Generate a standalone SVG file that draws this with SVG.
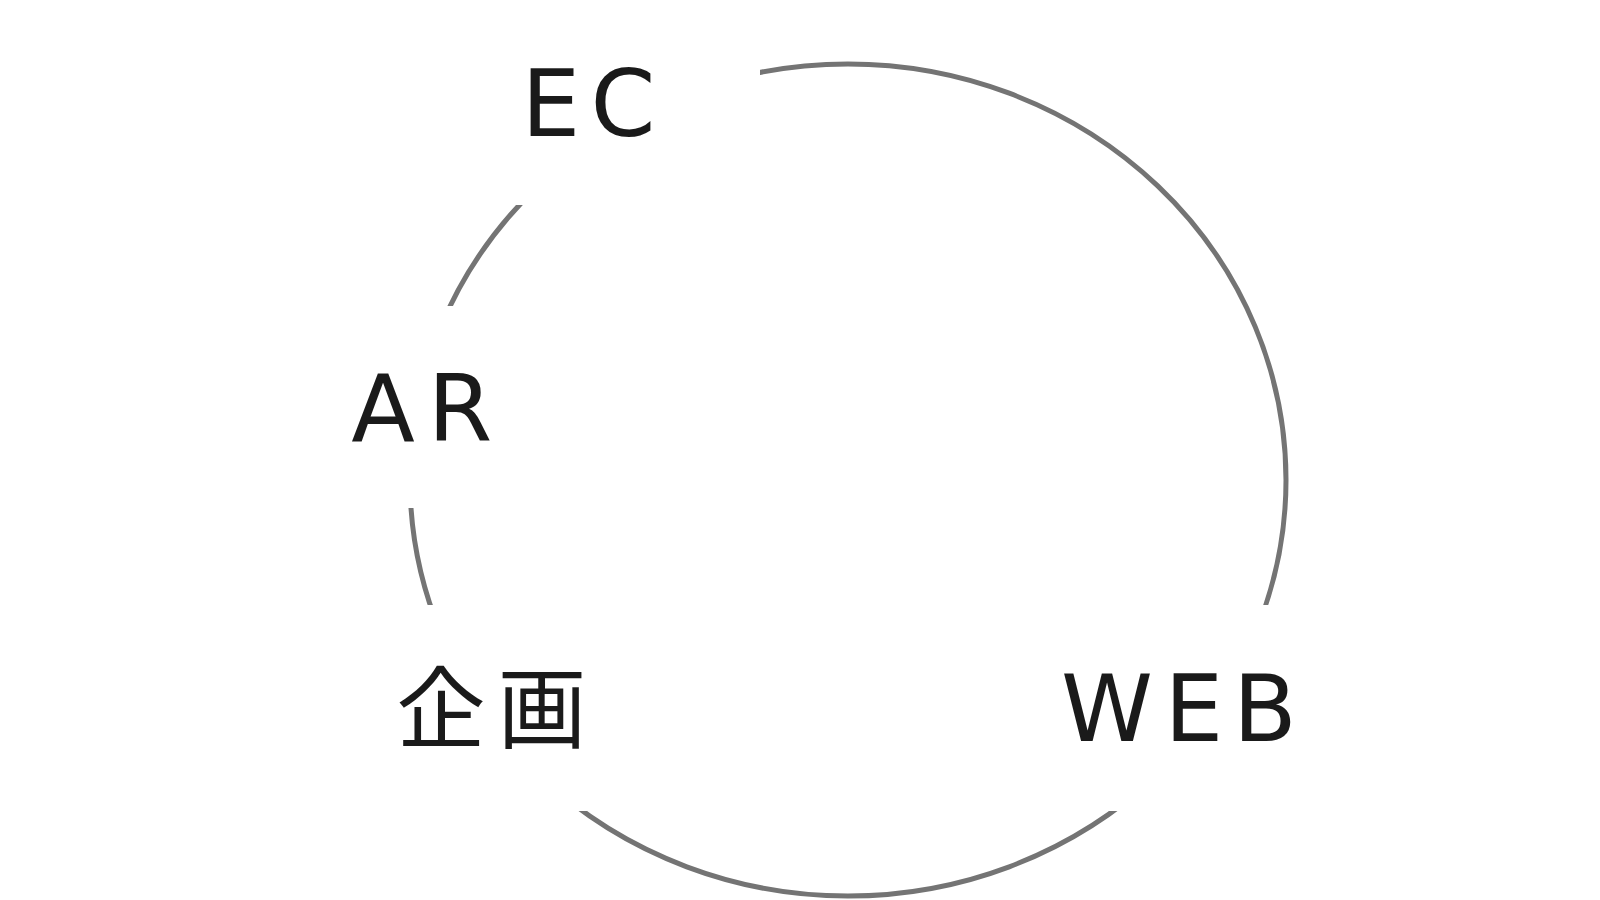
<svg xmlns="http://www.w3.org/2000/svg" width="1600" height="900" viewBox="0 0 1600 900">
<style>
.ring{fill:none;stroke:#747474;stroke-width:5}
.bg{fill:#fff}
.lbl{font-family:"DejaVu Sans","Noto Sans CJK JP",sans-serif;font-size:93px;fill:#1a1a1a;text-anchor:middle}
.kj{font-family:"Noto Sans CJK JP",sans-serif;font-size:89px;fill:#1a1a1a;text-anchor:middle}
</style>
<rect width="1600" height="900" fill="#fff"/>
<g id="connectors">
<ellipse class="ring" cx="848" cy="480" rx="438" ry="416"/>
</g>
<g id="node-ec">
<rect class="bg" x="420" y="-1" width="340" height="206"/>
<text class="lbl" x="551 623" y="136">EC</text>
</g>
<g id="node-ar">
<rect class="bg" x="251" y="306" width="340" height="202"/>
<text class="lbl" x="383 460" y="441">AR</text>
</g>
<g id="node-kikaku">
<rect class="bg" x="320" y="605" width="340" height="206"/>
<text class="kj" x="441 542" y="741">企画</text>
</g>
<g id="node-web">
<rect class="bg" x="1007" y="605" width="340" height="206"/>
<text class="lbl" x="1107 1194 1265" y="741">WEB</text>
</g>
</svg>
